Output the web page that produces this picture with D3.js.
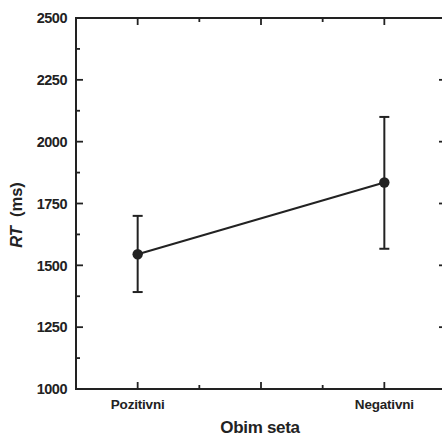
<!DOCTYPE html>
<html><head><meta charset="utf-8">
<script src="https://cdn.jsdelivr.net/npm/d3@7"></script>
<style>body{margin:0;background:#fff}svg{display:block}text{font-family:"Liberation Sans",Arial,sans-serif;fill:#222}</style>
</head><body><div id="c"></div>
<script>
const categories = ["Pozitivni", "Negativni"];
const catPos = [1, 3];
const means = [1545, 1835];
const upper = [1700, 2100];
const lower = [1392, 1567];
const yTicks = [1000, 1250, 1500, 1750, 2000, 2250, 2500];
const yMinor = [1125, 1375, 1625, 1875, 2125, 2375];
const xMajor = [1, 2, 3];
const xMinor = [1.5, 2.5];
const xLabel = "Obim seta";

const W = 442, H = 438;
const m = {l: 76, t: 18, r: 446, b: 389};
const svg = d3.select("#c").append("svg").attr("width", W).attr("height", H);
const x = d3.scaleLinear().domain([0.5, 3.5]).range([m.l, m.r]);
const y = d3.scaleLinear().domain([1000, 2500]).range([m.b, m.t]);
const col = "#222";

// frame
svg.append("rect").attr("x", m.l).attr("y", m.t).attr("width", m.r - m.l).attr("height", m.b - m.t)
  .attr("fill", "none").attr("stroke", col).attr("stroke-width", 2);

// ticks (inward)
const g = svg.append("g").attr("stroke", col).attr("stroke-width", 1.8);
const maj = 7, mnr = 4;
xMajor.forEach(v => {
  g.append("line").attr("x1", x(v)).attr("x2", x(v)).attr("y1", m.b).attr("y2", m.b - maj);
  g.append("line").attr("x1", x(v)).attr("x2", x(v)).attr("y1", m.t).attr("y2", m.t + maj);
});
xMinor.forEach(v => {
  g.append("line").attr("x1", x(v)).attr("x2", x(v)).attr("y1", m.b).attr("y2", m.b - mnr);
  g.append("line").attr("x1", x(v)).attr("x2", x(v)).attr("y1", m.t).attr("y2", m.t + mnr);
});
yTicks.forEach(v => {
  g.append("line").attr("y1", y(v)).attr("y2", y(v)).attr("x1", m.l).attr("x2", m.l + maj);
  g.append("line").attr("y1", y(v)).attr("y2", y(v)).attr("x1", m.r).attr("x2", m.r - maj);
});
yMinor.forEach(v => {
  g.append("line").attr("y1", y(v)).attr("y2", y(v)).attr("x1", m.l).attr("x2", m.l + mnr);
  g.append("line").attr("y1", y(v)).attr("y2", y(v)).attr("x1", m.r).attr("x2", m.r - mnr);
});

// y tick labels
svg.append("g").selectAll("text").data(yTicks).join("text")
  .attr("x", 67).attr("y", d => y(d)).attr("dy", "0.36em").attr("text-anchor", "end")
  .attr("font-size", 14.5).attr("font-weight", "bold").attr("letter-spacing", -0.5).text(d => d);

// x category labels
svg.append("g").selectAll("text").data(categories).join("text")
  .attr("x", (d, i) => x(catPos[i])).attr("y", 409).attr("text-anchor", "middle")
  .attr("font-size", 13.5).attr("font-weight", "bold").attr("letter-spacing", -0.2).text(d => d);

// axis titles
svg.append("text").attr("x", 260).attr("y", 433).attr("text-anchor", "middle")
  .attr("font-size", 17).attr("font-weight", "bold").attr("letter-spacing", -0.3).text(xLabel);
const yl = svg.append("text").attr("transform", "translate(22,215) rotate(-90)").attr("text-anchor", "middle")
  .attr("font-size", 16.5).attr("font-weight", "bold");
yl.append("tspan").attr("font-style", "italic").text("RT");
yl.append("tspan").text(" \u00A0(ms)");

// data
const pts = categories.map((c, i) => ({x: catPos[i], m: means[i], u: upper[i], l: lower[i]}));
const dg = svg.append("g").attr("stroke", col);
pts.forEach(p => {
  dg.append("line").attr("x1", x(p.x)).attr("x2", x(p.x)).attr("y1", y(p.u)).attr("y2", y(p.l)).attr("stroke-width", 2);
  [p.u, p.l].forEach(v => dg.append("line").attr("x1", x(p.x) - 5).attr("x2", x(p.x) + 5).attr("y1", y(v)).attr("y2", y(v)).attr("stroke-width", 2));
});
svg.append("path").datum(pts).attr("fill", "none").attr("stroke", col).attr("stroke-width", 2)
  .attr("d", d3.line().x(d => x(d.x)).y(d => y(d.m)));
svg.append("g").selectAll("circle").data(pts).join("circle")
  .attr("cx", d => x(d.x)).attr("cy", d => y(d.m)).attr("r", 5.2).attr("fill", col);
</script></body></html>
